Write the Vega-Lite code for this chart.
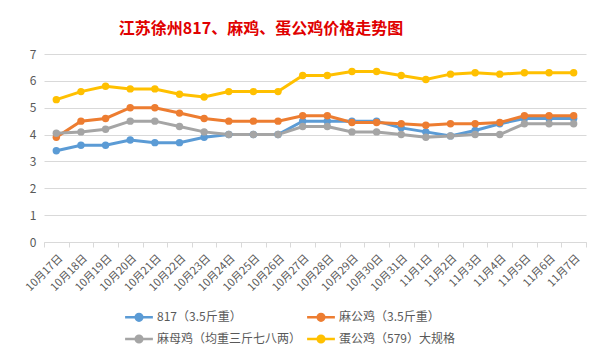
{
  "$schema": "https://vega.github.io/schema/vega-lite/v6.json",
  "width": 542,
  "height": 188,
  "autosize": {"type": "none"},
  "padding": {"left": 44, "top": 54, "right": 17, "bottom": 119},
  "background": "white",
  "config": {"view": {"stroke": null}, "font": "Noto Sans CJK SC"},
  "title": {
    "text": "江苏徐州817、麻鸡、蛋公鸡价格走势图",
    "font": "Noto Sans CJK SC",
    "fontSize": 16,
    "fontWeight": "bold",
    "color": "#E00000",
    "anchor": "middle",
    "dx": -54,
    "offset": 11
  },
  "datasets": {
    "prices": [
      {"date": "10月17日", "series": "817（3.5斤重）", "value": 3.4},
      {"date": "10月18日", "series": "817（3.5斤重）", "value": 3.6},
      {"date": "10月19日", "series": "817（3.5斤重）", "value": 3.6},
      {"date": "10月20日", "series": "817（3.5斤重）", "value": 3.8},
      {"date": "10月21日", "series": "817（3.5斤重）", "value": 3.7},
      {"date": "10月22日", "series": "817（3.5斤重）", "value": 3.7},
      {"date": "10月23日", "series": "817（3.5斤重）", "value": 3.9},
      {"date": "10月24日", "series": "817（3.5斤重）", "value": 4.0},
      {"date": "10月25日", "series": "817（3.5斤重）", "value": 4.0},
      {"date": "10月26日", "series": "817（3.5斤重）", "value": 4.0},
      {"date": "10月27日", "series": "817（3.5斤重）", "value": 4.5},
      {"date": "10月28日", "series": "817（3.5斤重）", "value": 4.5},
      {"date": "10月29日", "series": "817（3.5斤重）", "value": 4.5},
      {"date": "10月30日", "series": "817（3.5斤重）", "value": 4.5},
      {"date": "10月31日", "series": "817（3.5斤重）", "value": 4.25},
      {"date": "11月1日", "series": "817（3.5斤重）", "value": 4.1},
      {"date": "11月2日", "series": "817（3.5斤重）", "value": 3.95},
      {"date": "11月3日", "series": "817（3.5斤重）", "value": 4.15},
      {"date": "11月4日", "series": "817（3.5斤重）", "value": 4.4},
      {"date": "11月5日", "series": "817（3.5斤重）", "value": 4.6},
      {"date": "11月6日", "series": "817（3.5斤重）", "value": 4.6},
      {"date": "11月7日", "series": "817（3.5斤重）", "value": 4.6},
      {"date": "10月17日", "series": "麻公鸡（3.5斤重）", "value": 3.9},
      {"date": "10月18日", "series": "麻公鸡（3.5斤重）", "value": 4.5},
      {"date": "10月19日", "series": "麻公鸡（3.5斤重）", "value": 4.6},
      {"date": "10月20日", "series": "麻公鸡（3.5斤重）", "value": 5.0},
      {"date": "10月21日", "series": "麻公鸡（3.5斤重）", "value": 5.0},
      {"date": "10月22日", "series": "麻公鸡（3.5斤重）", "value": 4.8},
      {"date": "10月23日", "series": "麻公鸡（3.5斤重）", "value": 4.6},
      {"date": "10月24日", "series": "麻公鸡（3.5斤重）", "value": 4.5},
      {"date": "10月25日", "series": "麻公鸡（3.5斤重）", "value": 4.5},
      {"date": "10月26日", "series": "麻公鸡（3.5斤重）", "value": 4.5},
      {"date": "10月27日", "series": "麻公鸡（3.5斤重）", "value": 4.7},
      {"date": "10月28日", "series": "麻公鸡（3.5斤重）", "value": 4.7},
      {"date": "10月29日", "series": "麻公鸡（3.5斤重）", "value": 4.45},
      {"date": "10月30日", "series": "麻公鸡（3.5斤重）", "value": 4.45},
      {"date": "10月31日", "series": "麻公鸡（3.5斤重）", "value": 4.4},
      {"date": "11月1日", "series": "麻公鸡（3.5斤重）", "value": 4.35},
      {"date": "11月2日", "series": "麻公鸡（3.5斤重）", "value": 4.4},
      {"date": "11月3日", "series": "麻公鸡（3.5斤重）", "value": 4.4},
      {"date": "11月4日", "series": "麻公鸡（3.5斤重）", "value": 4.45},
      {"date": "11月5日", "series": "麻公鸡（3.5斤重）", "value": 4.7},
      {"date": "11月6日", "series": "麻公鸡（3.5斤重）", "value": 4.7},
      {"date": "11月7日", "series": "麻公鸡（3.5斤重）", "value": 4.7},
      {"date": "10月17日", "series": "麻母鸡（均重三斤七八两）", "value": 4.05},
      {"date": "10月18日", "series": "麻母鸡（均重三斤七八两）", "value": 4.1},
      {"date": "10月19日", "series": "麻母鸡（均重三斤七八两）", "value": 4.2},
      {"date": "10月20日", "series": "麻母鸡（均重三斤七八两）", "value": 4.5},
      {"date": "10月21日", "series": "麻母鸡（均重三斤七八两）", "value": 4.5},
      {"date": "10月22日", "series": "麻母鸡（均重三斤七八两）", "value": 4.3},
      {"date": "10月23日", "series": "麻母鸡（均重三斤七八两）", "value": 4.1},
      {"date": "10月24日", "series": "麻母鸡（均重三斤七八两）", "value": 4.0},
      {"date": "10月25日", "series": "麻母鸡（均重三斤七八两）", "value": 4.0},
      {"date": "10月26日", "series": "麻母鸡（均重三斤七八两）", "value": 4.0},
      {"date": "10月27日", "series": "麻母鸡（均重三斤七八两）", "value": 4.3},
      {"date": "10月28日", "series": "麻母鸡（均重三斤七八两）", "value": 4.3},
      {"date": "10月29日", "series": "麻母鸡（均重三斤七八两）", "value": 4.1},
      {"date": "10月30日", "series": "麻母鸡（均重三斤七八两）", "value": 4.1},
      {"date": "10月31日", "series": "麻母鸡（均重三斤七八两）", "value": 4.0},
      {"date": "11月1日", "series": "麻母鸡（均重三斤七八两）", "value": 3.9},
      {"date": "11月2日", "series": "麻母鸡（均重三斤七八两）", "value": 3.95},
      {"date": "11月3日", "series": "麻母鸡（均重三斤七八两）", "value": 4.0},
      {"date": "11月4日", "series": "麻母鸡（均重三斤七八两）", "value": 4.0},
      {"date": "11月5日", "series": "麻母鸡（均重三斤七八两）", "value": 4.4},
      {"date": "11月6日", "series": "麻母鸡（均重三斤七八两）", "value": 4.4},
      {"date": "11月7日", "series": "麻母鸡（均重三斤七八两）", "value": 4.4},
      {"date": "10月17日", "series": "蛋公鸡（579）大规格", "value": 5.3},
      {"date": "10月18日", "series": "蛋公鸡（579）大规格", "value": 5.6},
      {"date": "10月19日", "series": "蛋公鸡（579）大规格", "value": 5.8},
      {"date": "10月20日", "series": "蛋公鸡（579）大规格", "value": 5.7},
      {"date": "10月21日", "series": "蛋公鸡（579）大规格", "value": 5.7},
      {"date": "10月22日", "series": "蛋公鸡（579）大规格", "value": 5.5},
      {"date": "10月23日", "series": "蛋公鸡（579）大规格", "value": 5.4},
      {"date": "10月24日", "series": "蛋公鸡（579）大规格", "value": 5.6},
      {"date": "10月25日", "series": "蛋公鸡（579）大规格", "value": 5.6},
      {"date": "10月26日", "series": "蛋公鸡（579）大规格", "value": 5.6},
      {"date": "10月27日", "series": "蛋公鸡（579）大规格", "value": 6.2},
      {"date": "10月28日", "series": "蛋公鸡（579）大规格", "value": 6.2},
      {"date": "10月29日", "series": "蛋公鸡（579）大规格", "value": 6.35},
      {"date": "10月30日", "series": "蛋公鸡（579）大规格", "value": 6.35},
      {"date": "10月31日", "series": "蛋公鸡（579）大规格", "value": 6.2},
      {"date": "11月1日", "series": "蛋公鸡（579）大规格", "value": 6.05},
      {"date": "11月2日", "series": "蛋公鸡（579）大规格", "value": 6.25},
      {"date": "11月3日", "series": "蛋公鸡（579）大规格", "value": 6.3},
      {"date": "11月4日", "series": "蛋公鸡（579）大规格", "value": 6.25},
      {"date": "11月5日", "series": "蛋公鸡（579）大规格", "value": 6.3},
      {"date": "11月6日", "series": "蛋公鸡（579）大规格", "value": 6.3},
      {"date": "11月7日", "series": "蛋公鸡（579）大规格", "value": 6.3}
    ]
  },
  "data": {"name": "prices"},
  "mark": {"type": "line", "strokeWidth": 3, "point": {"filled": true, "size": 55, "opacity": 1}},
  "encoding": {
    "x": {
      "field": "date",
      "type": "ordinal",
      "sort": null,
      "scale": {"type": "band", "paddingInner": 0, "paddingOuter": 0},
      "axis": {
        "title": null,
        "labelAngle": -45,
        "labelFontSize": 11,
        "labelColor": "#595959",
        "labelPadding": 5,
        "tickBand": "extent",
        "tickColor": "#D9D9D9",
        "tickSize": 5,
        "domainColor": "#D9D9D9",
        "grid": false
      }
    },
    "y": {
      "field": "value",
      "type": "quantitative",
      "scale": {"domain": [0, 7], "nice": false},
      "axis": {
        "title": null,
        "values": [0, 1, 2, 3, 4, 5, 6, 7],
        "labelFontSize": 12,
        "labelColor": "#595959",
        "labelPadding": 8,
        "domain": false,
        "ticks": false,
        "gridColor": "#D9D9D9",
        "gridWidth": 1
      }
    },
    "color": {
      "field": "series",
      "type": "nominal",
      "scale": {
        "domain": ["817（3.5斤重）", "麻公鸡（3.5斤重）", "麻母鸡（均重三斤七八两）", "蛋公鸡（579）大规格"],
        "range": ["#5B9BD5", "#ED7D31", "#A5A5A5", "#FFC000"]
      },
      "legend": {
        "title": null,
        "orient": "none",
        "legendX": 87,
        "legendY": 255,
        "direction": "horizontal",
        "columns": 2,
        "columnPadding": 0,
        "rowPadding": 4,
        "labelFontSize": 12,
        "labelColor": "#595959",
        "labelOffset": 10,
        "symbolType": "M-2.1,0H2.1M-0.5,0A0.5,0.5 0 1,1 0.5,0A0.5,0.5 0 1,1 -0.5,0",
        "symbolSize": 175,
        "symbolStrokeWidth": 2.5
      }
    }
  }
}
